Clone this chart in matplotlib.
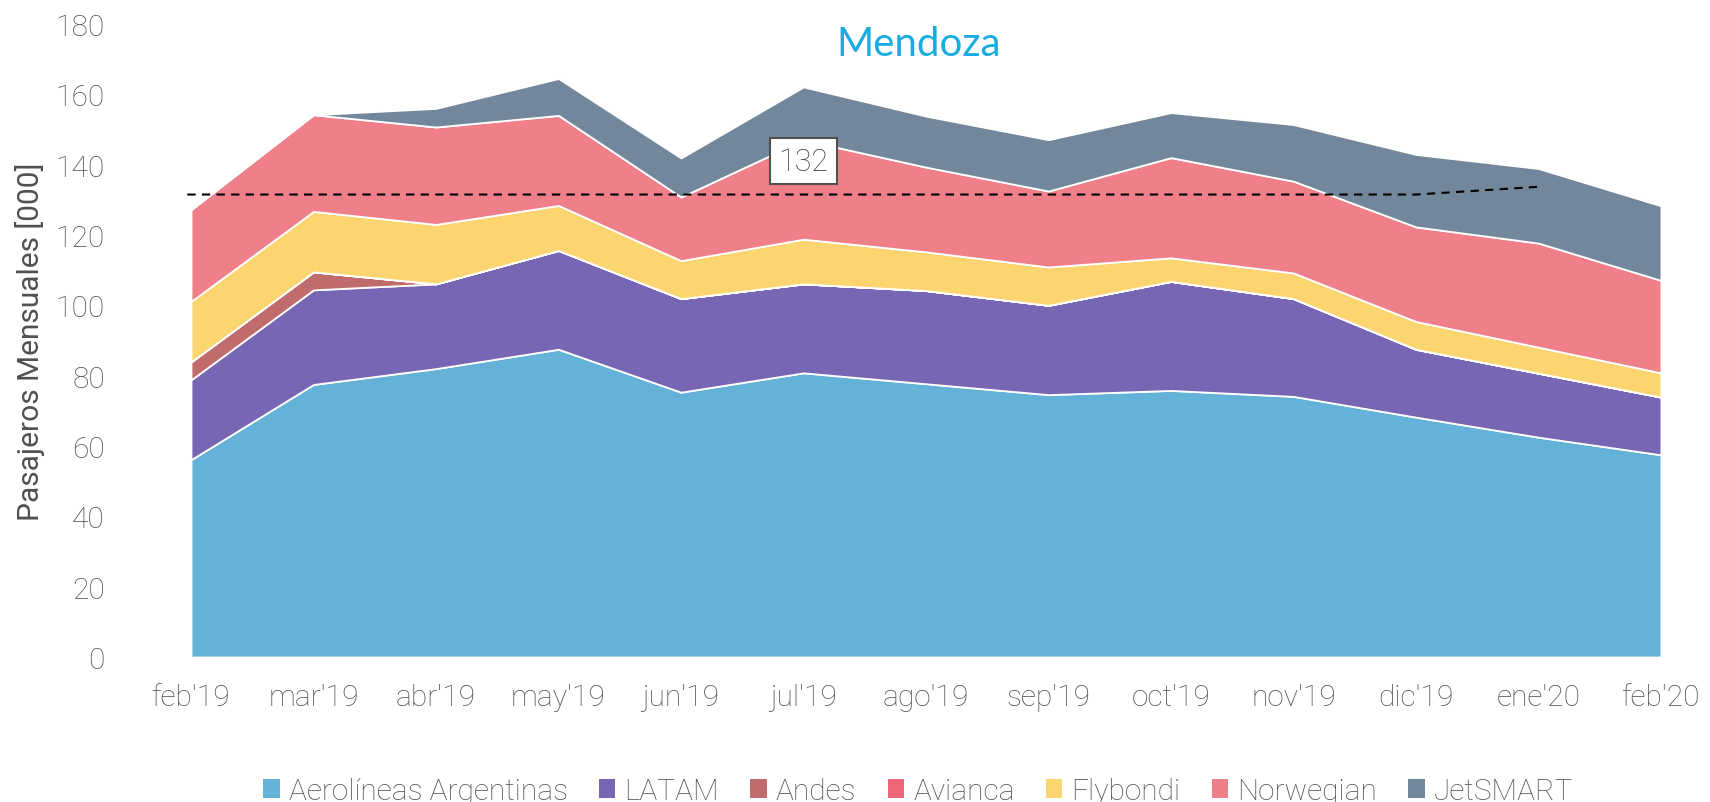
import matplotlib
matplotlib.use('Agg')
import matplotlib.pyplot as plt
import numpy as np

# Monthly passengers (thousands) per airline
months = ["feb'19", "mar'19", "abr'19", "may'19", "jun'19", "jul'19", "ago'19",
          "sep'19", "oct'19", "nov'19", "dic'19", "ene'20", "feb'20"]
aerolineas = [56.1, 77.5, 82.0, 87.5, 75.3, 80.8, 77.7, 74.6, 75.8, 74.1, 68.2, 62.5, 57.5]
latam = [22.7, 26.9, 24.1, 28.1, 26.6, 25.3, 26.5, 25.4, 31.0, 27.8, 19.3, 18.2, 16.4]
andes = [5.1, 5.1, 0, 0, 0, 0, 0, 0, 0, 0, 0, 0, 0]
avianca = [0, 0, 0, 0, 0, 0, 0, 0, 0, 0, 0, 0, 0]
flybondi = [17.2, 17.2, 16.9, 12.8, 10.8, 12.7, 11.0, 10.9, 6.7, 7.3, 7.9, 7.4, 6.9]
norwegian = [26.1, 27.5, 27.7, 25.6, 18.1, 28.2, 24.1, 21.6, 28.5, 26.1, 26.9, 29.6, 26.3]
jetsmart = [0, 0, 5.3, 10.5, 11.1, 15.1, 14.5, 14.6, 12.8, 16.1, 20.6, 21.2, 21.2]
promedio = [131.5, 131.5, 131.5, 131.5, 131.5, 131.5, 131.5, 131.5, 131.5, 131.5, 131.5, 133.7]
promedio_label = '132'

series = [aerolineas, latam, andes, avianca, flybondi, norwegian, jetsmart]
names = ['Aerolíneas Argentinas', 'LATAM', 'Andes', 'Avianca', 'Flybondi', 'Norwegian', 'JetSMART']
colors = ['#65B2D9', '#7766B4', '#C06C6C', '#EE6677', '#FDD570', '#EF808A', '#73879C']

plt.rcParams['font.family'] = ['Roboto', 'DejaVu Sans']
grey = '#505050'

fig = plt.figure(figsize=(17.1, 8.03), dpi=100)
ax = fig.add_axes([0.1117, 0.1806, 0.8596, 0.7883])

x = np.arange(len(months))
ax.stackplot(x, *series, labels=names, colors=colors, edgecolor='white', linewidth=1.3)

ax.plot(np.r_[-0.03, x[1:len(promedio)]], promedio, color='black',
        linestyle=(0, (4, 3)), linewidth=1.5, clip_on=False)
ax.text(5, 141.0, promedio_label, ha='center', va='center', fontsize=22, color='#404040',
        fontweight='light',
        bbox=dict(boxstyle='square,pad=0.28', facecolor='white', edgecolor=grey, linewidth=1.5))

ax.set_xlim(0, 12)
ax.set_ylim(0, 180)
ax.set_yticks(np.arange(0, 181, 20))
ax.set_xticks(x)
ax.set_xticklabels(months)
ax.tick_params(axis='both', length=0, labelsize=21.5, colors=grey, labelcolor=grey)
ax.tick_params(axis='y', pad=62)
ax.tick_params(axis='x', pad=19)
for lbl in ax.get_xticklabels() + ax.get_yticklabels():
    lbl.set_fontweight('light')
for s in ax.spines.values():
    s.set_visible(False)

ax.set_ylabel('Pasajeros Mensuales [000]', fontsize=21.5, color=grey)
ax.yaxis.set_label_coords(-0.099, 0.5)

fig.text(0.537, 0.944, 'Mendoza', ha='center', va='center', fontsize=29,
         color='#1AABE0', family=['Lato', 'DejaVu Sans'])

handles, labels = ax.get_legend_handles_labels()
leg = fig.legend(handles, labels, loc='center', bbox_to_anchor=(0.537, 0.014), ncol=7,
                 frameon=False, fontsize=21.5, handlelength=0.55, handleheight=0.6,
                 handletextpad=0.3, columnspacing=1.05)
for t in leg.get_texts():
    t.set_color(grey)
    t.set_fontweight('light')
for h in leg.legend_handles:
    h.set_edgecolor('none')

fig.savefig('out.png', dpi=100)
